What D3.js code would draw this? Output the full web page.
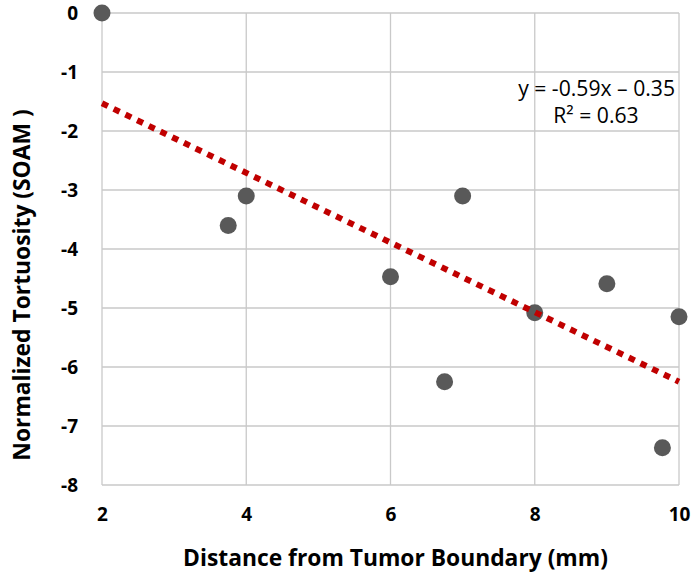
<!DOCTYPE html>
<html><head><meta charset="utf-8">
<script src="https://cdn.jsdelivr.net/npm/d3@7"></script>
<style>body{margin:0;background:#fff;} svg{display:block;}</style>
</head><body>
<svg id="c" width="693" height="575"></svg>
<script>
const xValues = [2, 3.75, 4, 6, 6.75, 7, 8, 9, 10, 9.77];
const yValues = [0, -3.6, -3.1, -4.47, -6.25, -3.1, -5.08, -4.59, -5.15, -7.37];
const xTicks = [2, 4, 6, 8, 10];
const yTicks = [0, -1, -2, -3, -4, -5, -6, -7, -8];
const trendSlope = -0.59;
const trendIntercept = -0.35;
const equationText = "y = -0.59x \u2013 0.35";
const r2Text = "R\u00B2 = 0.63";
const xTitle = "Distance from Tumor Boundary (mm)";
const yTitle = "Normalized Tortuosity (SOAM )";

const svg = d3.select("#c");
const L = 102, R = 679, T = 13, B = 485;
const x = d3.scaleLinear().domain([2, 10]).range([L, R]);
const y = d3.scaleLinear().domain([-8, 0]).range([B, T]);
const font = "'Open Sans', 'Liberation Sans', sans-serif";

function fitWidth(sel, target) {
  const w = sel.node().getComputedTextLength();
  const fs = parseFloat(sel.attr("font-size"));
  sel.attr("font-size", fs * target / w);
}

// grid
const grid = svg.append("g").attr("stroke", "#c9c9c9").attr("stroke-width", 1.3);
yTicks.forEach(t => grid.append("line").attr("x1", L).attr("x2", R).attr("y1", y(t)).attr("y2", y(t)));
xTicks.forEach(t => grid.append("line").attr("y1", T).attr("y2", B).attr("x1", x(t)).attr("x2", x(t)));

// axes labels via d3 axes
const xAxis = svg.append("g").attr("transform", `translate(0,${B})`)
  .call(d3.axisBottom(x).tickValues(xTicks).tickSize(0).tickPadding(23).tickFormat(d3.format("d")));
xAxis.select(".domain").remove();
xAxis.selectAll("text").attr("font-family", font).attr("font-weight", "bold").attr("font-size", 19).attr("fill", "#000");

const yAxis = svg.append("g").attr("transform", `translate(${L},0)`)
  .call(d3.axisLeft(y).tickValues(yTicks).tickSize(0).tickPadding(24).tickFormat(d => d === 0 ? "0" : "-" + Math.abs(d)));
yAxis.select(".domain").remove();
yAxis.selectAll("text").attr("font-family", font).attr("font-weight", "bold").attr("font-size", 19).attr("fill", "#000");

// points
svg.append("g").selectAll("circle").data(xValues.map((v, i) => [v, yValues[i]]))
  .enter().append("circle")
  .attr("cx", d => x(d[0])).attr("cy", d => y(d[1])).attr("r", 8.5).attr("fill", "#595959");

// trendline
const line = d3.line().x(d => x(d)).y(d => y(trendSlope * d + trendIntercept));
svg.append("path").datum([2, 10]).attr("d", line)
  .attr("fill", "none").attr("stroke", "#C00000").attr("stroke-width", 6)
  .attr("stroke-dasharray", "6.5,6.5");

// equation
const eq = svg.append("text").attr("x", 675).attr("y", 96).attr("text-anchor", "end")
  .attr("font-family", font).attr("font-size", 18).attr("fill", "#000").text(equationText);
fitWidth(eq, 157);
const r2 = svg.append("text").attr("x", 596).attr("y", 123).attr("text-anchor", "middle")
  .attr("font-family", font).attr("font-size", 18).attr("fill", "#000").text(r2Text);
r2.attr("font-size", eq.attr("font-size"));

// titles
const xt = svg.append("text").attr("x", 395.5).attr("y", 566).attr("text-anchor", "middle")
  .attr("font-family", font).attr("font-weight", "bold").attr("font-size", 20).attr("fill", "#000").text(xTitle);
fitWidth(xt, 425);
svg.append("text").attr("transform", "translate(30,285) rotate(-90)").attr("text-anchor", "middle")
  .attr("font-family", font).attr("font-weight", "bold").attr("font-size", xt.attr("font-size")).attr("fill", "#000").text(yTitle);
</script>
</body></html>
